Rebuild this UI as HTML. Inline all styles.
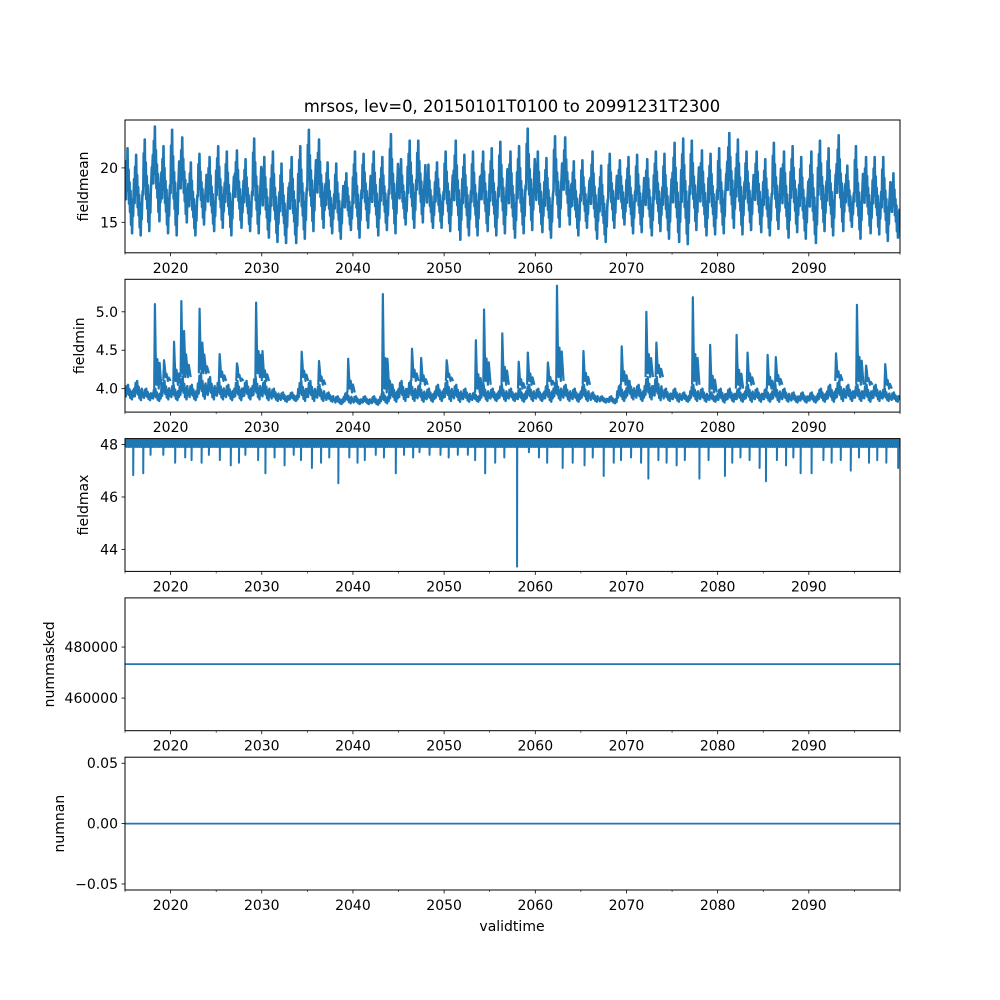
<!DOCTYPE html>
<html><head><meta charset="utf-8"><style>
html,body{margin:0;padding:0;background:#fff;}
svg{display:block;font-family:"DejaVu Sans","Liberation Sans",sans-serif;}
</style></head><body>
<svg id="fig" width="1000" height="1000" viewBox="0 0 1000 1000" xmlns="http://www.w3.org/2000/svg">
<rect width="1000" height="1000" fill="#fff"/>
<text x="512" y="112" text-anchor="middle" font-size="16.4">mrsos, lev=0, 20150101T0100 to 20991231T2300</text>
<text x="512" y="931" text-anchor="middle" font-size="14">validtime</text>
</svg>
<script>
// ---------- data ----------
const xTickYears = [2020,2030,2040,2050,2060,2070,2080,2090];
const meanYears = [];
for (let y = 2015; y <= 2099; y++) meanYears.push(y);
const meanPeaks = [21.8,21.2,22.6,23.8,22.0,23.5,22.8,20.5,21.3,21.0,22.0,21.5,21.6,20.8,22.7,21.0,21.5,20.4,21.0,22.0,23.5,22.6,20.5,20.4,19.5,21.5,21.3,21.5,21.0,23.1,20.8,22.5,22.5,20.3,20.5,21.5,22.5,21.2,21.5,21.5,21.8,22.4,21.5,22.0,23.6,21.5,20.9,22.9,22.8,20.6,20.7,21.5,20.2,21.3,20.7,21.0,21.2,20.8,21.5,21.3,22.3,22.7,22.5,21.6,21.3,21.8,23.2,22.6,21.5,21.5,20.8,22.3,21.5,22.0,21.0,21.5,22.5,21.8,23.0,20.2,22.0,21.0,21.0,21.0,19.5];
const meanTroughs = [14.0,13.8,14.2,15.1,14.0,13.8,15.0,13.8,14.8,14.2,14.5,13.8,14.5,14.2,14.0,13.6,13.2,13.1,13.1,13.5,14.2,14.5,14.0,13.5,14.3,13.6,14.5,13.8,14.3,14.0,14.8,14.5,15.0,14.5,14.5,14.2,13.4,13.8,13.8,14.2,13.8,14.0,13.6,14.0,14.3,14.1,13.6,14.6,14.8,13.8,14.5,13.5,13.2,14.5,14.8,14.0,14.1,13.8,14.2,13.5,13.2,13.0,14.3,13.8,13.9,14.0,14.5,13.9,14.3,14.1,13.8,14.4,13.6,14.1,13.5,13.1,14.2,13.8,14.2,14.6,13.5,14.0,13.9,13.3,13.6];
const minBaseHi = [4.05,4.1,4.0,4.0,4.1,4.05,4.15,4.05,4.2,4.15,4.1,4.05,4.1,4.1,4.15,4.1,4.0,3.95,3.95,4.1,4.1,4.05,3.95,3.9,3.95,3.9,3.9,3.9,3.95,4.05,4.1,4.1,4.05,4.0,4.05,4.1,4.05,4.0,3.95,4.05,4.0,4.05,4.0,4.0,4.05,4.0,4.05,4.1,4.05,4.0,4.05,3.95,3.9,3.9,4.05,4.1,4.05,4.15,4.15,4.0,4.0,3.95,4.05,4.0,3.95,4.0,4.0,4.0,4.05,4.0,4.0,4.05,4.0,3.95,3.95,3.95,4.0,4.05,4.1,4.05,4.05,4.05,4.05,4.0,3.95];
const minLo = [3.86,3.85,3.85,3.84,3.86,3.85,3.86,3.85,3.87,3.86,3.86,3.85,3.85,3.86,3.86,3.85,3.84,3.83,3.84,3.84,3.84,3.84,3.83,3.8,3.81,3.8,3.8,3.79,3.81,3.83,3.84,3.84,3.83,3.83,3.84,3.84,3.83,3.83,3.83,3.84,3.84,3.84,3.84,3.83,3.84,3.84,3.83,3.85,3.84,3.83,3.84,3.83,3.82,3.81,3.84,3.86,3.84,3.86,3.85,3.84,3.83,3.83,3.84,3.83,3.83,3.82,3.83,3.83,3.83,3.83,3.83,3.83,3.83,3.82,3.82,3.82,3.83,3.83,3.84,3.84,3.84,3.83,3.84,3.84,3.83];
const minSpikeYears = [2018.3,2019.3,2020.4,2021.2,2021.5,2023.2,2023.5,2025.4,2027.3,2029.4,2030.1,2034.4,2036.3,2039.5,2043.3,2043.8,2046.5,2047.5,2050.3,2053.5,2054.4,2056.4,2058.2,2059.2,2061.4,2062.4,2065.3,2069.5,2072.2,2073.3,2077.3,2079.2,2082.1,2083.3,2085.5,2086.4,2093.0,2095.3,2096.3,2098.4];
const minSpikeValues = [5.1,4.37,4.61,5.14,4.75,5.04,4.6,4.45,4.33,5.12,4.49,4.48,4.36,4.39,5.23,4.39,4.52,4.4,4.37,4.63,5.03,4.72,4.35,4.47,4.34,5.34,4.49,4.55,5.0,4.6,5.19,4.57,4.7,4.47,4.44,4.41,4.46,5.09,4.3,4.32];
const maxTop = 48.18;
const maxBandLow = 47.9;
const maxDipYears = [2015.9,2017.0,2017.8,2019.2,2020.5,2021.6,2022.3,2023.4,2024.2,2025.4,2026.6,2027.5,2028.2,2029.6,2030.4,2031.4,2032.5,2033.5,2034.3,2035.5,2036.5,2037.4,2038.4,2039.6,2040.5,2041.3,2042.5,2043.4,2044.7,2045.6,2046.6,2047.3,2048.4,2049.6,2050.5,2051.5,2052.6,2053.4,2054.5,2055.6,2056.6,2058.0,2059.3,2060.4,2061.3,2063.0,2064.1,2065.4,2066.3,2067.5,2068.6,2069.4,2070.5,2071.6,2072.4,2073.5,2074.4,2075.5,2076.4,2078.0,2079.0,2080.8,2081.6,2082.5,2083.5,2084.6,2085.3,2086.5,2087.5,2088.3,2089.1,2090.3,2091.6,2092.5,2093.5,2094.6,2095.5,2096.6,2097.5,2098.5,2099.8];
const maxDipValues = [46.83,46.9,47.6,47.6,47.3,47.5,47.4,47.3,47.6,47.4,47.2,47.3,47.6,47.4,46.9,47.5,47.2,47.6,47.4,47.1,47.3,47.5,46.52,47.5,47.3,47.4,47.6,47.5,46.9,47.6,47.5,47.7,47.6,47.6,47.5,47.6,47.6,47.4,46.9,47.3,47.5,43.35,47.7,47.5,47.3,47.1,47.3,47.2,47.5,46.8,47.3,47.4,47.5,47.3,46.7,47.4,47.3,47.2,47.4,46.7,47.4,46.8,47.3,47.5,47.4,47.1,46.6,47.4,47.2,47.5,46.9,46.9,47.4,47.3,47.4,47.0,47.5,47.3,47.4,47.3,47.1];
const maskedValue = 473300;
const nanValue = 0;

// ---------- layout ----------
const NS = "http://www.w3.org/2000/svg";
const svg = document.getElementById('fig');
const X0 = 125, X1 = 900, YR0 = 2015, YR1 = 2100;
const xs = y => X0 + (y - YR0) / (YR1 - YR0) * (X1 - X0);
const panelTops = [120, 279.3, 438.6, 597.9, 757.2];
const PH = 132.8;
const color = '#1f77b4';

function mk(tag, attrs, parent) {
  const e = document.createElementNS(NS, tag);
  for (const k in attrs) e.setAttribute(k, attrs[k]);
  (parent || svg).appendChild(e);
  return e;
}

function makePanel(i, name, ymin, ymax, yticks, ylabels, ylabelX) {
  const top = panelTops[i], bot = top + PH;
  const ys = v => bot - (v - ymin) / (ymax - ymin) * PH;
  const g = mk('g', {});
  
  
  const clipId = 'clip' + i;
  const cp = mk('clipPath', {id: clipId}, g);
  mk('rect', {x: X0, y: top, width: X1 - X0, height: PH}, cp);
  const plot = mk('g', {'clip-path': 'url(#' + clipId + ')'}, g);
  
  
  const fr = mk('rect', {x: X0, y: top, width: X1 - X0, height: PH, fill: 'none', stroke: '#000', 'stroke-width': 1}, g);
  
  
  for (let y = 2015; y <= 2100; y += 5) {
    const major = xTickYears.includes(y);
    const t = mk('line', {x1: xs(y), x2: xs(y), y1: bot, y2: bot + (major ? 3.5 : 2), stroke: '#000', 'stroke-width': major ? 0.8 : 0.6}, g);
    
    
  }
  xTickYears.forEach(y => {
    const t = mk('text', {x: xs(y), y: bot + 20, 'text-anchor': 'middle', 'font-size': 14}, g);
    t.textContent = y;
    
    
  });
  yticks.forEach((v, k) => {
    const t = mk('line', {x1: X0 - 3.5, x2: X0, y1: ys(v), y2: ys(v), stroke: '#000', 'stroke-width': 0.8}, g);
    
    
    const l = mk('text', {x: X0 - 7, y: ys(v) + 5, 'text-anchor': 'end', 'font-size': 14}, g);
    l.textContent = ylabels[k];
    
    
  });
  const cy = top + PH / 2;
  const yl = mk('text', {x: ylabelX, y: cy, 'text-anchor': 'middle', 'font-size': 14, transform: 'rotate(-90 ' + ylabelX + ' ' + cy + ')'}, g);
  yl.textContent = name;
  
  
  return {plot, ys};
}

function addLine(plot, pts, name, w) {
  const p = mk('polyline', {points: pts.map(p => p[0].toFixed(2) + ',' + p[1].toFixed(2)).join(' '), fill: 'none', stroke: color, 'stroke-width': w, 'stroke-linejoin': 'round'}, plot);
  
  
}

// panel 1: fieldmean
{
  const {plot, ys} = makePanel(0, 'fieldmean', 12.2, 24.4, [15, 20], ['15', '20'], 88);
  const pattern = [0.55,0.7,0.4,0.85,0.6,1.0,0.5,0.75,0.35,0.6,0.25,0.5,0.1,0.4,0.0,0.35,0.2,0.45];
  const pts = [];
  meanYears.forEach((yr, i) => {
    const pk = meanPeaks[i], tr = meanTroughs[i];
    const sh = (i * 7) % 3;
    pattern.forEach((w, k) => {
      const ww = pattern[(k + sh) % pattern.length];
      pts.push([xs(yr + k / pattern.length), ys(tr + ww * (pk - tr))]);
    });
  });
  addLine(plot, pts, 'fieldmean-line', 2.6);
}
// panel 2: fieldmin
{
  const {plot, ys} = makePanel(1, 'fieldmin', 3.695, 5.423, [4.0, 4.5, 5.0], ['4.0', '4.5', '5.0'], 84);
  const pattern = [0.6,0.2,0.9,0.4,1.0,0.3,0.7,0.1,0.5,0.0,0.6,0.2];
  const pts = [];
  meanYears.forEach((yr, i) => {
    pattern.forEach((w, k) => {
      pts.push([xs(yr + k / pattern.length), ys(minLo[i] + w * (minBaseHi[i] - minLo[i]))]);
    });
  });
  addLine(plot, pts, 'fieldmin-line', 2.4);
  minSpikeYears.forEach((yr, k) => {
    const bi = Math.min(84, Math.floor(yr - 2015));
    const base = minBaseHi[bi];
    const mid = base + 0.35 * (minSpikeValues[k] - base);
    addLine(plot, [[xs(yr - 0.1), ys(base)], [xs(yr - 0.02), ys(minSpikeValues[k])], [xs(yr + 0.06), ys(mid + 0.1)], [xs(yr + 0.15), ys(base + 0.05)], [xs(yr + 0.25), ys(mid)], [xs(yr + 0.4), ys(base)], [xs(yr + 0.5), ys(mid - 0.05)], [xs(yr + 0.7), ys(base)]], 'fieldmin-spike', 2.2);
  });
}
// panel 3: fieldmax
{
  const {plot, ys} = makePanel(2, 'fieldmax', 43.17, 48.22, [44, 46, 48], ['44', '46', '48'], 88);
  const pts = [];
  let d = 0;
  for (let k = 0; k <= 1700; k++) {
    const yr = 2015 + k * 0.05;
    while (d < maxDipYears.length && maxDipYears[d] <= yr) {
      pts.push([xs(maxDipYears[d]), ys(maxBandLow)]);
      pts.push([xs(maxDipYears[d]), ys(maxDipValues[d])]);
      pts.push([xs(maxDipYears[d] + 0.02), ys(maxBandLow)]);
      d++;
    }
    pts.push([xs(yr), ys(k % 2 ? maxTop : (k % 4 === 0 ? maxBandLow : maxBandLow + 0.1))]);
  }
  addLine(plot, pts, 'fieldmax-line', 2);
}
// panel 4: nummasked
{
  const {plot, ys} = makePanel(3, 'nummasked', 447220, 499250, [460000, 480000], ['460000', '480000'], 54);
  addLine(plot, [[xs(2015), ys(maskedValue)], [xs(2100), ys(maskedValue)]], 'nummasked-line', 1.8);
}
// panel 5: numnan
{
  const {plot, ys} = makePanel(4, 'numnan', -0.055, 0.055, [-0.05, 0, 0.05], ['\u22120.05', '0.00', '0.05'], 64);
  addLine(plot, [[xs(2015), ys(nanValue)], [xs(2100), ys(nanValue)]], 'numnan-line', 1.8);
}
</script>
</body></html>
